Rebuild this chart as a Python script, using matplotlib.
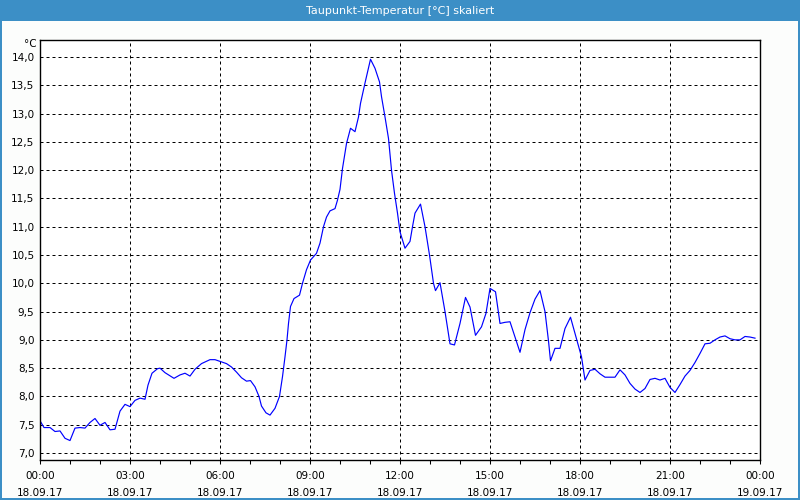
import numpy as np
import matplotlib
matplotlib.use('Agg')
import matplotlib.pyplot as plt
from matplotlib.patches import Rectangle
from matplotlib.ticker import MultipleLocator, FuncFormatter

# minutes since 18.09.17 00:00 and dew point in °C
minutes = [0, 8, 20, 30, 40, 50, 60, 70, 80, 90, 100, 110, 120, 130, 140, 150,
           160, 170, 180, 190, 200, 210, 216, 224, 235, 240, 250, 268, 280, 290,
           300, 310, 323, 340, 350, 360, 373, 383, 393, 403, 413, 421, 430, 438,
           443, 452, 460, 470, 479, 485, 490, 494, 497, 501, 508, 519, 525, 533,
           541, 553, 560, 567, 573, 580, 590, 595, 600, 605, 613, 621, 630, 637,
           641, 650, 661, 670, 679, 683, 690, 697, 703, 709, 715, 720, 730, 740,
           745, 750, 761, 770, 779, 787, 791, 800, 810, 820, 829, 840, 851, 860,
           871, 883, 892, 900, 911, 920, 930, 940, 950, 960, 970, 980, 990, 1000,
           1010, 1017, 1021, 1030, 1040, 1050, 1061, 1072, 1083, 1090, 1100, 1110,
           1120, 1130, 1140, 1150, 1160, 1170, 1180, 1190, 1200, 1210, 1220, 1230,
           1240, 1250, 1260, 1270, 1280, 1290, 1300, 1310, 1320, 1330, 1340, 1350,
           1360, 1370, 1380, 1390, 1400, 1410, 1420, 1430]
dewpoint = [7.57, 7.45, 7.45, 7.38, 7.39, 7.26, 7.22, 7.44, 7.45, 7.44, 7.54, 7.61,
            7.49, 7.54, 7.41, 7.42, 7.74, 7.86, 7.82, 7.93, 7.97, 7.95, 8.20, 8.41,
            8.49, 8.50, 8.42, 8.32, 8.38, 8.41, 8.36, 8.48, 8.58, 8.65, 8.65, 8.62,
            8.58, 8.52, 8.43, 8.33, 8.27, 8.28, 8.17, 8.00, 7.83, 7.71, 7.67, 7.79,
            8.00, 8.35, 8.70, 9.00, 9.29, 9.59, 9.73, 9.79, 10.00, 10.24, 10.41,
            10.53, 10.71, 11.00, 11.17, 11.28, 11.32, 11.47, 11.66, 12.03, 12.47,
            12.74, 12.68, 12.94, 13.18, 13.54, 13.96, 13.80, 13.56, 13.30, 12.94,
            12.56, 12.00, 11.59, 11.24, 10.91, 10.62, 10.74, 11.00, 11.24, 11.40,
            11.00, 10.50, 10.00, 9.87, 10.01, 9.50, 8.93, 8.91, 9.29, 9.75, 9.58,
            9.08, 9.23, 9.47, 9.91, 9.85, 9.29, 9.31, 9.32, 9.05, 8.78, 9.18, 9.48,
            9.72, 9.87, 9.50, 8.98, 8.63, 8.85, 8.85, 9.20, 9.40, 9.05, 8.70, 8.29,
            8.46, 8.48, 8.40, 8.34, 8.34, 8.34, 8.47, 8.38, 8.23, 8.13, 8.07, 8.14,
            8.30, 8.32, 8.29, 8.32, 8.16, 8.07, 8.21, 8.36, 8.46, 8.60, 8.76, 8.93,
            8.94, 9.00, 9.05, 9.07, 9.02, 9.00, 9.00, 9.06, 9.05, 9.03]

tick_hours = [0, 3, 6, 9, 12, 15, 18, 21, 24]
tick_labels = ['00:00\n18.09.17', '03:00\n18.09.17', '06:00\n18.09.17',
               '09:00\n18.09.17', '12:00\n18.09.17', '15:00\n18.09.17',
               '18:00\n18.09.17', '21:00\n18.09.17', '00:00\n19.09.17']
title = 'Taupunkt-Temperatur [°C] skaliert'

hours = np.array(minutes) / 60.0

fig = plt.figure(figsize=(8, 5), dpi=100, facecolor='#fcfdfc')

# window frame: blue title bar + thin blue border
blue = '#3c8fc6'
fig.patches.append(Rectangle((0, 1 - 21/500), 1, 21/500, transform=fig.transFigure,
                             facecolor=blue, edgecolor='none', zorder=0))
for r in [(0, 0, 2/800, 1), (1 - 2/800, 0, 2/800, 1), (0, 0, 1, 2/500)]:
    fig.patches.append(Rectangle(r[:2], r[2], r[3], transform=fig.transFigure,
                                 facecolor=blue, edgecolor='none', zorder=0))
fig.text(0.5, 1 - 10.5/500, title, color='white', fontsize=8, ha='center', va='center')

ax = fig.add_axes([40/800, 40/500, 720/800, 420/500])
ax.set_facecolor('white')
ax.plot(hours, dewpoint, color='#0000ff', lw=0.85)

ax.set_xlim(0, 24)
ax.set_ylim(7.0 - 7/56.6, 14.0 + 17/56.6)

ax.set_xticks(tick_hours)
ax.set_xticklabels(tick_labels, fontsize=7.5, linespacing=1.9)
ax.xaxis.set_minor_locator(MultipleLocator(1))
ax.tick_params(axis='x', which='both', direction='out', length=3, width=0.75, pad=5)
ax.yaxis.set_major_locator(MultipleLocator(0.5))
ax.yaxis.set_major_formatter(FuncFormatter(lambda v, p: f'{v:.1f}'.replace('.', ',')))
ax.tick_params(axis='y', length=0, pad=4, labelsize=7.5)

ax.grid(True, which='major', color='black', lw=0.72, linestyle=(0, (3, 3)))
for s in ax.spines.values():
    s.set_linewidth(1.0)

fig.text(37/800, 1 - 44/500, '°C', fontsize=7.5, ha='right', va='center')

fig.savefig('out.png', dpi=100, facecolor=fig.get_facecolor())
